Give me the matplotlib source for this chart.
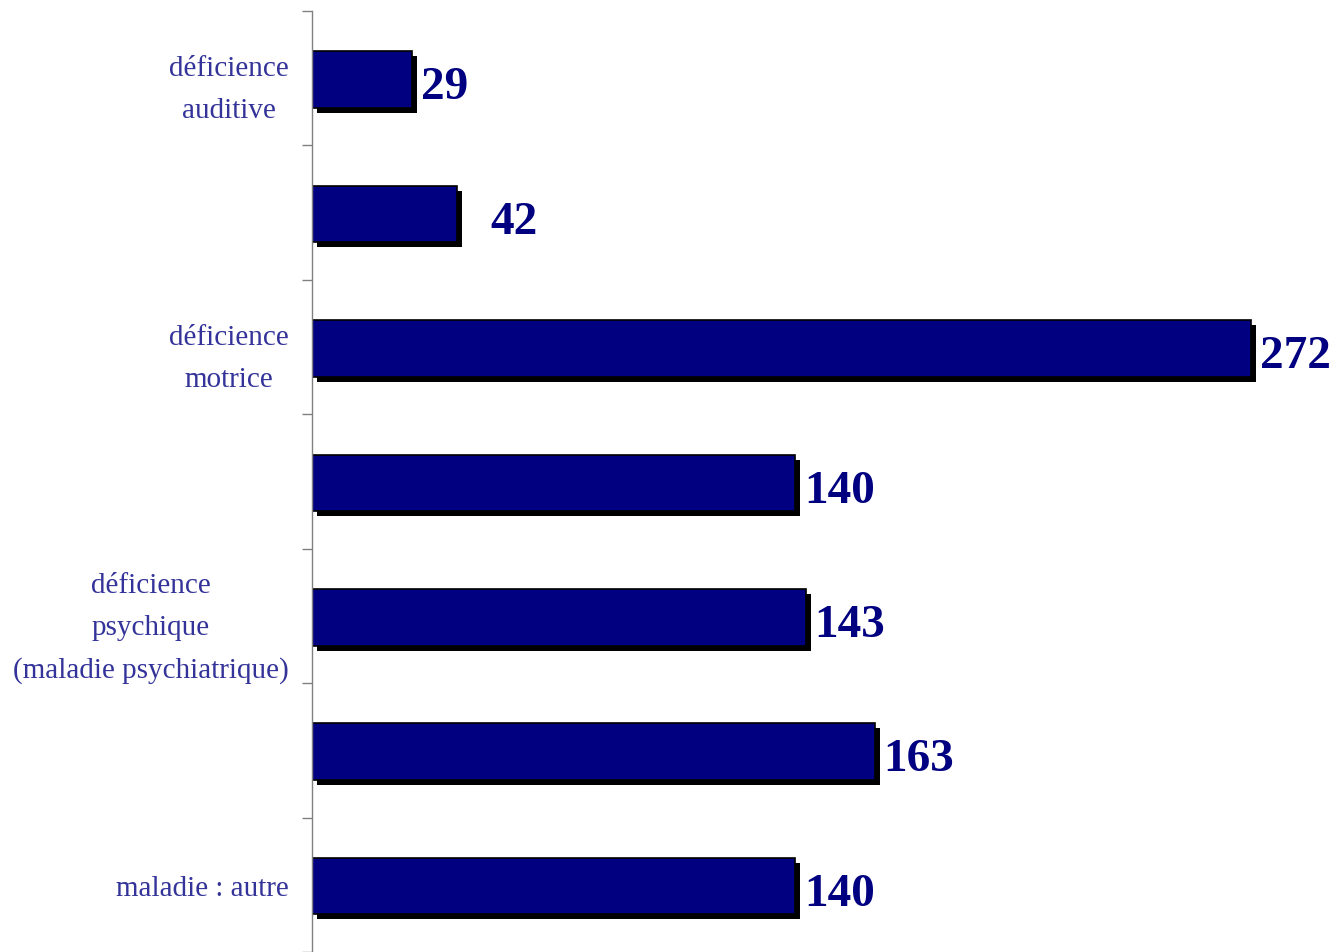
import matplotlib.pyplot as plt
import matplotlib.patheffects as pe

# categories top to bottom (only every other label is printed in the original)
labels = ["déficience\nauditive", "", "déficience\nmotrice", "",
          "déficience\npsychique\n(maladie psychiatrique)", "", "maladie : autre"]
values = [29, 42, 272, 140, 143, 163, 140]
label_gap = [5, 29, 5, 5, 5, 5, 5]  # px between bar shadow and value

plt.rcParams['font.family'] = ['Liberation Serif', 'DejaVu Serif']

fig = plt.figure(figsize=(13.36, 9.53), dpi=100)
ax = fig.add_axes([312 / 1336, 0, 1 - 312 / 1336, 1 - 12 / 953])

px = 1 / 3.452  # data units per pixel along x
ypos = list(range(len(values)))
bars = ax.barh([y + 0.01 for y in ypos], values, height=0.42, color="#000080",
               edgecolor="black", linewidth=1.2)
for b in bars:
    b.set_path_effects([pe.SimplePatchShadow(offset=(3.6, -3.6), shadow_rgbFace="black", alpha=1.0),
                        pe.Normal()])

for y, v, g in zip(ypos, values, label_gap):
    ax.text(v + (4 + g) * px, y + 0.03, str(v), va="center_baseline", ha="left",
            fontsize=34, fontweight="bold", color="#000080")

ax.set_xlim(0, (1336 - 312) * px)
ax.set_ylim(len(values) - 0.5, -0.5)

# tick marks at category boundaries, labels at centres
ax.set_yticks([i - 0.5 for i in range(len(values) + 1)])
ax.set_yticklabels([])
ax.set_yticks(ypos, minor=True)
ax.set_yticklabels(labels, minor=True, fontsize=21, color="#333399",
                   multialignment="center", linespacing=1.8)
ax.tick_params(axis="y", which="major", length=7.2, width=1, color="#808080", direction="out")
ax.tick_params(axis="y", which="minor", length=0, pad=17)
ax.set_xticks([])

for s in ["top", "right", "bottom"]:
    ax.spines[s].set_visible(False)
ax.spines["left"].set_color("#808080")
ax.spines["left"].set_linewidth(1)

fig.savefig("out.png", dpi=100)
